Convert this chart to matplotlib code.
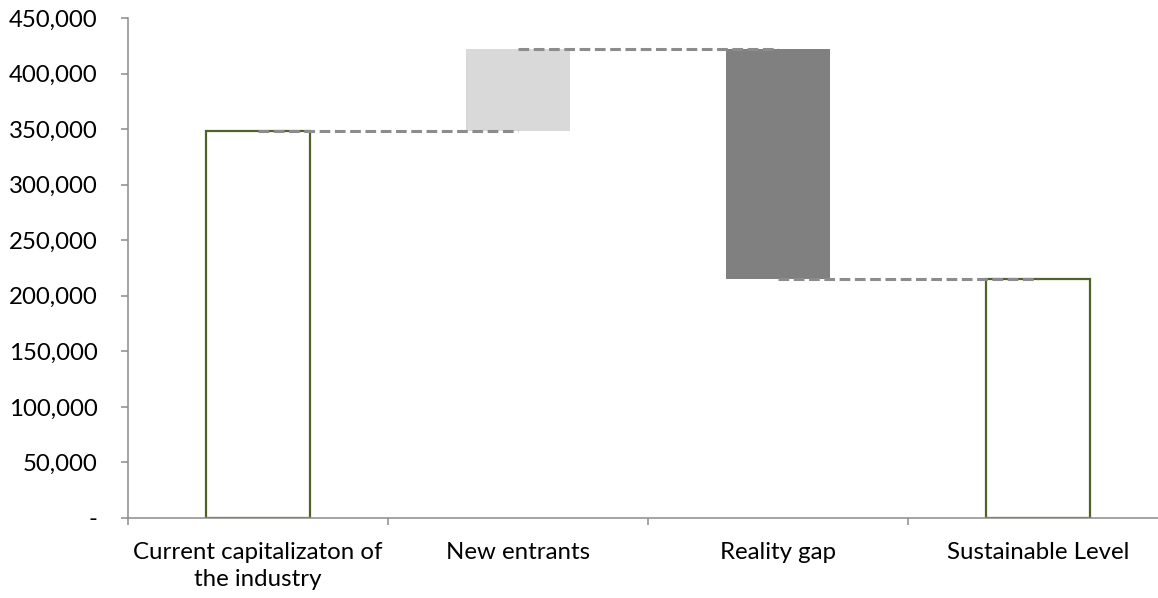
import matplotlib
matplotlib.use('Agg')
import matplotlib.pyplot as plt
from matplotlib.ticker import FuncFormatter

# waterfall steps, left to right
categories = ["Current capitalizaton of\nthe industry", "New entrants", "Reality gap", "Sustainable Level"]
changes = [348000, 74000, -207000, 215000]
is_total = [True, False, False, True]

plt.rcParams['font.family'] = ['Lato', 'DejaVu Sans']

fig = plt.figure(figsize=(11.58, 5.98), dpi=100)
ax = fig.add_axes([128 / 1158, 80 / 598, 1040 / 1158, 500 / 598])

# work out bottoms and tops of each floating bar
level = 0
bottoms, heights, levels = [], [], []
for chg, tot in zip(changes, is_total):
    if tot:
        bottoms.append(0)
        heights.append(chg)
        level = chg
    else:
        new = level + chg
        bottoms.append(min(level, new))
        heights.append(abs(chg))
        level = new
    levels.append(level)

face = []
edge = []
for chg, tot in zip(changes, is_total):
    if tot:
        face.append("white")
        edge.append("#4F6228")
    elif chg > 0:
        face.append("#D9D9D9")
        edge.append("none")
    else:
        face.append("#808080")
        edge.append("none")

x = range(len(categories))
ax.bar(x, heights, bottom=bottoms, width=0.4, color=face, edgecolor=edge,
       linewidth=1.6, zorder=2)

# dashed connectors between bar centres
for i in range(len(categories) - 1):
    ax.plot([i, i + 1], [levels[i], levels[i]], color="#8C8C8C", lw=2.2,
            linestyle=(0, (3.5, 1.5)), zorder=3)

ax.set_xlim(-0.5, 3.5)
ax.set_ylim(0, 450000)
ax.set_yticks(range(0, 450001, 50000))
ax.yaxis.set_major_formatter(FuncFormatter(lambda v, p: "-" if v == 0 else f"{int(v):,}"))

ax.set_xticks([-0.5, 0.5, 1.5, 2.5, 3.5])
ax.set_xticklabels([])
ax.set_xticks(list(x), minor=True)
ax.set_xticklabels(categories, minor=True, linespacing=1.35)
ax.tick_params(axis='x', which='minor', length=0, pad=17, labelsize=17.3, colors="black")
ax.tick_params(axis='x', which='major', length=5, width=1.1, color="#8C8C8C", direction='out')
ax.tick_params(axis='y', length=5, width=1.1, color="#8C8C8C", pad=17, labelsize=17.3)

for s in ["top", "right"]:
    ax.spines[s].set_visible(False)
for s in ["left", "bottom"]:
    ax.spines[s].set_color("#8C8C8C")
    ax.spines[s].set_linewidth(1.1)
    ax.spines[s].set_zorder(4)

fig.savefig("out.png", dpi=100)
